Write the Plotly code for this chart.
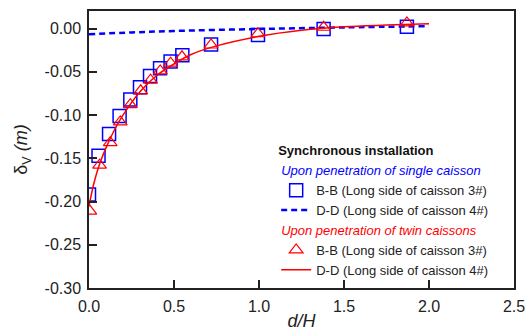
import plotly.graph_objects as go

# Single caisson, B-B (squares)
single_bb_x = [0.0, 0.056, 0.118, 0.18, 0.243, 0.30, 0.359, 0.418, 0.48, 0.549, 0.718, 0.994, 1.38, 1.87]
single_bb_y = [-0.192, -0.147, -0.122, -0.101, -0.082, -0.068, -0.055, -0.046, -0.038, -0.031, -0.0185, -0.0074, -0.0004, 0.002]

# Single caisson, D-D (dashed line)
single_dd_x = [0.0, 0.25, 0.5, 1.0, 1.5, 2.0]
single_dd_y = [-0.0065, -0.0045, -0.0028, -0.0005, 0.0013, 0.0028]

# Twin caissons, B-B (triangles)
twin_bb_x = [0.005, 0.062, 0.125, 0.184, 0.243, 0.304, 0.362, 0.419, 0.48, 0.547, 0.718, 0.994, 1.38, 1.87]
twin_bb_y = [-0.211, -0.158, -0.132, -0.108, -0.088, -0.072, -0.0597, -0.049, -0.040, -0.0327, -0.019, -0.006, 0.0015, 0.0065]

# Twin caissons, D-D (solid line)
twin_dd_x = [0.0, 0.03, 0.06, 0.1, 0.15, 0.2, 0.3, 0.4, 0.5, 0.6, 0.75, 1.0, 1.25, 1.5, 1.75, 2.0]
twin_dd_y = [-0.205, -0.178, -0.158, -0.138, -0.117, -0.100, -0.073, -0.054, -0.041, -0.030, -0.020, -0.009, -0.002, 0.002, 0.004, 0.0055]

# Tick labels
y_tickvals = [0.0, -0.05, -0.10, -0.15, -0.20, -0.25, -0.30]
y_ticktext = ["0.00", "-0.05", "-0.10", "-0.15", "-0.20", "-0.25", "-0.30"]
x_tickvals = [0.0, 0.5, 1.0, 1.5, 2.0, 2.5]
x_ticktext = ["0.0", "0.5", "1.0", "1.5", "2.0", "2.5"]

BLUE = "#0000ff"
RED = "#ff0000"
FONT = "Liberation Sans, Arial, sans-serif"

fig = go.Figure()
fig.add_trace(go.Scatter(
    x=single_bb_x, y=single_bb_y, mode="markers",
    marker=dict(symbol="square-open", size=13, color=BLUE, line=dict(width=1.5, color=BLUE)),
    name="B-B (Long side of caisson 3#)", legendgroup="single",
    legendgrouptitle=dict(text="<i>Upon penetration of single caisson</i>", font=dict(color=BLUE, size=13, family=FONT)),
))
fig.add_trace(go.Scatter(
    x=single_dd_x, y=single_dd_y, mode="lines", line_shape="spline",
    line=dict(color=BLUE, width=2.5, dash="6px,4px"),
    name="D-D (Long side of caisson 4#)", legendgroup="single",
))
fig.add_trace(go.Scatter(
    x=twin_bb_x, y=twin_bb_y, mode="markers",
    marker=dict(symbol="triangle-up-open", size=12, color=RED, line=dict(width=1.2, color=RED)),
    name="B-B (Long side of caisson 3#)", legendgroup="twin",
    legendgrouptitle=dict(text="<i>Upon penetration of twin caissons</i>", font=dict(color=RED, size=13, family=FONT)),
))
fig.add_trace(go.Scatter(
    x=twin_dd_x, y=twin_dd_y, mode="lines", line_shape="spline",
    line=dict(color=RED, width=1.5),
    name="D-D (Long side of caisson 4#)", legendgroup="twin",
))

axis_common = dict(
    showgrid=False, zeroline=False, showline=True, linecolor="#222", linewidth=1.5,
    mirror=True, ticks="inside", ticklen=8, tickwidth=1.5, tickcolor="#222",
    tickfont=dict(size=16, family=FONT, color="#222"), automargin=False,
)
fig.update_layout(
    width=526, height=336,
    margin=dict(l=89, r=12, t=11, b=48),
    paper_bgcolor="white", plot_bgcolor="white",
    font=dict(family=FONT, color="#222"),
    xaxis=dict(range=[0, 2.5], tickmode="array", tickvals=x_tickvals, ticktext=x_ticktext, ticklabelstandoff=3,
               title=dict(text="<i>d/H</i>", font=dict(size=18, family=FONT), standoff=0), **axis_common),
    yaxis=dict(range=[-0.30, 0.0203], tickmode="array", tickvals=y_tickvals, ticktext=y_ticktext, ticklabelstandoff=3,
               title=dict(text="δ<sub>V</sub> <i>(m)</i>", font=dict(size=18, family=FONT), standoff=12), **axis_common),
    legend=dict(
        x=0.951, xanchor="right", y=0.54, yanchor="top",
        bgcolor="rgba(0,0,0,0)", borderwidth=0,
        font=dict(size=13, family=FONT, color="#222"),
        title=dict(text="<b>Synchronous installation</b>", font=dict(size=13, family=FONT, color="#111")),
        tracegroupgap=0, traceorder="grouped",
    ),
    showlegend=True,
)
fig.write_html("out.html")
